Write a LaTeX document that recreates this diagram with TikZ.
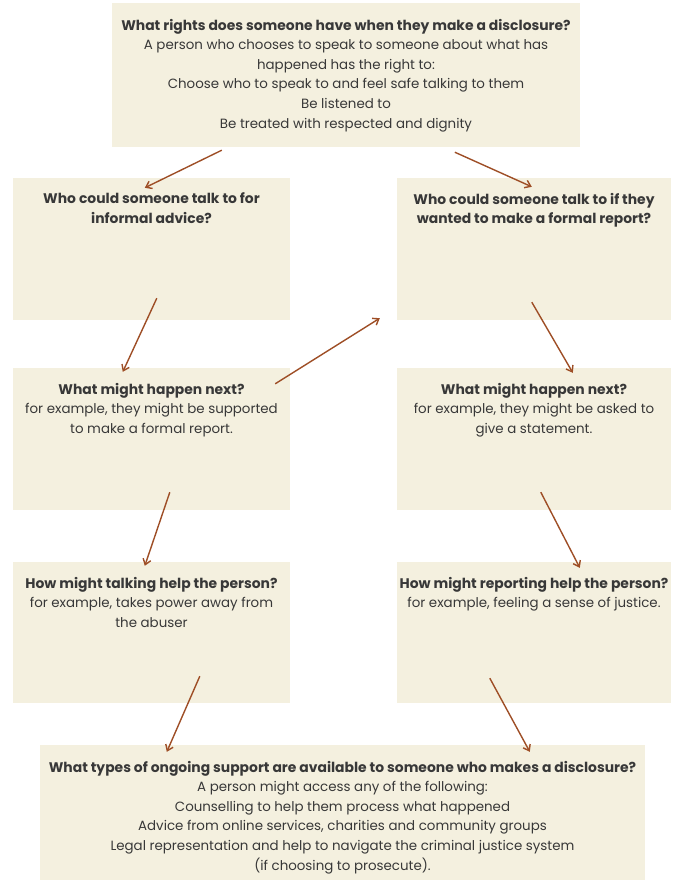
\documentclass[tikz,border=0pt]{standalone}
\usepackage{fontspec}
\setmainfont{Poppins}
\usepackage{xcolor}
\usetikzlibrary{arrows.meta, positioning, calc}
\definecolor{cream}{HTML}{F4F0DF}
\definecolor{rust}{HTML}{9E4E26}
\definecolor{ink}{HTML}{383838}
\newcommand{\heading}[1]{{\fontsize{13.9}{19.5}\selectfont\bfseries #1}}

\tikzset{
    card/.style={fill=cream, inner sep=0pt},
    cardtext/.style={align=center, text=ink, inner sep=0pt,
        font=\fontsize{13.4}{19.6}\selectfont},
    flow/.style={-{Straight Barb[length=5.5pt, width=8pt]}, rust, line width=1.4pt},
}

\begin{document}
\begin{tikzpicture}[x=1pt, y=-1pt]
    \useasboundingbox (0,0) rectangle (674,882);

    % Boxes
    \node[card, minimum width=468pt, minimum height=144pt] (rights) at (346,75) {};
    \node[card, minimum width=277pt, minimum height=142pt] (informal) at (151.5,249) {};
    \node[card, minimum width=274pt, minimum height=142pt] (formal) at (534,249) {};
    \node[card, minimum width=277pt, minimum height=142pt] (nextL) at (151.5,439) {};
    \node[card, minimum width=274pt, minimum height=142pt] (nextR) at (534,439) {};
    \node[card, minimum width=277pt, minimum height=141pt] (talk) at (151.5,632.5) {};
    \node[card, minimum width=274pt, minimum height=141pt] (report) at (534,632.5) {};
    \node[card, minimum width=605pt, minimum height=135pt] (support) at (342.5,812.5) {};

    % Texts
    \node[cardtext, below=16pt of rights.north] (rightsT) {\heading{What rights does someone have when they make a disclosure?}\\
        A person who chooses to speak to someone about what has\\
        happened has the right to:\\
        Choose who to speak to and feel safe talking to them\\
        Be listened to\\
        Be treated with respected and dignity};
    \node[cardtext, below=15pt of informal.north] (informalT) {\heading{Who could someone talk to for}\\ \heading{informal advice?}};
    \node[cardtext, below=15pt of formal.north] (formalT) {\heading{Who could someone talk to if they}\\ \heading{wanted to make a formal report?}};
    \node[cardtext, below=15pt of nextL.north] (nextLT) {\heading{What might happen next?}\\
        for example, they might be supported\\ to make a formal report.};
    \node[cardtext, below=15pt of nextR.north] (nextRT) {\heading{What might happen next?}\\
        for example, they might be asked to\\ give a statement.};
    \node[cardtext, below=15pt of talk.north] (talkT) {\heading{How might talking help the person?}\\
        for example, takes power away from\\ the abuser};
    \node[cardtext, below=15pt of report.north] (reportT) {\heading{How might reporting help the person?}\\
        for example, feeling a sense of justice.};
    \node[cardtext, below=16pt of support.north] (supportT) {\heading{What types of ongoing support are available to someone who makes a disclosure?}\\
        A person might access any of the following:\\
        Counselling to help them process what happened\\
        Advice from online services, charities and community groups\\
        Legal representation and help to navigate the criminal justice system\\
        (if choosing to prosecute).};

    % Arrows
    \draw[flow] ($(rights.south west)+(110,3)$) -- ($(informal.north west)+(132,10)$);
    \draw[flow] ($(rights.south west)+(343,5)$) -- ($(formal.north west)+(135,9)$);
    \draw[flow] ($(informal.south west)+(144,-22)$) -- ($(nextL.north west)+(110,4)$);
    \draw[flow] ($(nextL.north east)+(-15,16)$) -- ($(formal.south west)+(-17,-2)$);
    \draw[flow] ($(formal.south west)+(135,-18)$) -- ($(nextR.north west)+(176,5)$);
    \draw[flow] ($(nextL.south west)+(157,-18)$) -- ($(talk.north west)+(132,4)$);
    \draw[flow] ($(nextR.south west)+(144,-18)$) -- ($(report.north west)+(183,6)$);
    \draw[flow] ($(talk.south west)+(187,-27)$) -- ($(support.north west)+(127,7)$);
    \draw[flow] ($(report.south west)+(93,-25)$) -- ($(support.north west)+(490,7)$);
\end{tikzpicture}
\end{document}
